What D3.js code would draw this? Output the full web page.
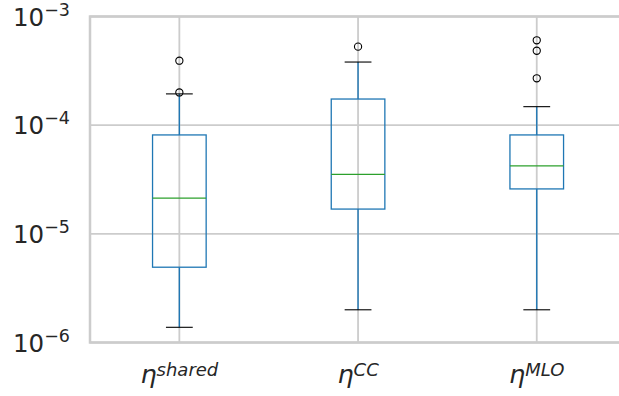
<!DOCTYPE html>
<html>
<head>
<meta charset="utf-8">
<script src="https://cdn.jsdelivr.net/npm/d3@7"></script>
<style>
  html, body { margin: 0; padding: 0; background: #fff; }
  svg { display: block; font-family: "DejaVu Sans", sans-serif; }
</style>
</head>
<body>
<svg id="chart" width="619" height="396"></svg>
<script>
// ---- data ----
const categories = ["shared", "CC", "MLO"];
const q1 = [4.93e-6, 1.69e-5, 2.59e-5];
const medians = [2.13e-5, 3.53e-5, 4.22e-5];
const q3 = [8.13e-5, 1.74e-4, 8.13e-5];
const whiskerLow = [1.38e-6, 2.0e-6, 2.0e-6];
const whiskerHigh = [1.94e-4, 3.81e-4, 1.48e-4];
const outliers = [[2.0e-4, 3.92e-4], [5.28e-4], [2.70e-4, 4.84e-4, 6.04e-4]];
const yTickExponents = [-6, -5, -4, -3];

// ---- layout ----
const svg = d3.select("#chart");
const plotLeft = 90, plotTop = 16.5, plotBottom = 342.5;
const step = 178.7;
const x = d3.scaleLinear().domain([0.5, 3.5]).range([plotLeft, plotLeft + 3 * step]);
const y = d3.scaleLog().domain([1e-6, 1e-3]).range([plotBottom, plotTop]);
const grid = "#cccccc";

const g = svg.append("g");

// gridlines
g.selectAll(".hgrid").data(yTickExponents).enter().append("line")
  .attr("x1", x(0.5)).attr("x2", x(3.5))
  .attr("y1", d => y(Math.pow(10, d))).attr("y2", d => y(Math.pow(10, d)))
  .attr("stroke", grid).attr("stroke-width", 1.8);
g.selectAll(".vgrid").data(categories).enter().append("line")
  .attr("x1", (d, i) => x(i + 1)).attr("x2", (d, i) => x(i + 1))
  .attr("y1", plotTop).attr("y2", plotBottom)
  .attr("stroke", grid).attr("stroke-width", 1.8);

// spines
g.append("rect")
  .attr("x", x(0.5)).attr("y", plotTop)
  .attr("width", x(3.5) - x(0.5)).attr("height", plotBottom - plotTop)
  .attr("fill", "none").attr("stroke", grid).attr("stroke-width", 2.5);

// boxes
const blue = "#1f77b4", green = "#2ca02c";
const boxW = 0.3, capW = 0.15;
categories.forEach((c, i) => {
  const p = i + 1;
  const bg = g.append("g");
  // whiskers
  bg.append("line").attr("x1", x(p)).attr("x2", x(p))
    .attr("y1", y(q3[i])).attr("y2", y(whiskerHigh[i]))
    .attr("stroke", blue).attr("stroke-width", 1.4);
  bg.append("line").attr("x1", x(p)).attr("x2", x(p))
    .attr("y1", y(q1[i])).attr("y2", y(whiskerLow[i]))
    .attr("stroke", blue).attr("stroke-width", 1.4);
  // caps
  [whiskerHigh[i], whiskerLow[i]].forEach(v => {
    bg.append("line").attr("x1", x(p - capW / 2)).attr("x2", x(p + capW / 2))
      .attr("y1", y(v)).attr("y2", y(v))
      .attr("stroke", "#000").attr("stroke-width", 1.1);
  });
  // box
  bg.append("rect")
    .attr("x", x(p - boxW / 2)).attr("width", x(p + boxW / 2) - x(p - boxW / 2))
    .attr("y", y(q3[i])).attr("height", y(q1[i]) - y(q3[i]))
    .attr("fill", "none").attr("stroke", blue).attr("stroke-width", 1.3);
  // median
  bg.append("line").attr("x1", x(p - boxW / 2)).attr("x2", x(p + boxW / 2))
    .attr("y1", y(medians[i])).attr("y2", y(medians[i]))
    .attr("stroke", green).attr("stroke-width", 1.3);
  // outliers
  bg.selectAll("circle").data(outliers[i]).enter().append("circle")
    .attr("cx", x(p)).attr("cy", d => y(d)).attr("r", 3.6)
    .attr("fill", "none").attr("stroke", "#000").attr("stroke-width", 1.1);
});

// y tick labels
const txt = "#262626";
yTickExponents.forEach(e => {
  const t = svg.append("text")
    .attr("x", 70).attr("y", y(Math.pow(10, e)) + 9)
    .attr("text-anchor", "end").attr("fill", txt)
    .attr("font-size", 24.5);
  t.append("tspan").text("10");
  t.append("tspan").attr("dy", -10).attr("font-size", 17.5).text("\u2212" + Math.abs(e));
});

// x tick labels
categories.forEach((c, i) => {
  const t = svg.append("text")
    .attr("x", x(i + 1)).attr("y", 383)
    .attr("text-anchor", "middle").attr("fill", txt)
    .attr("font-size", 25.5).attr("font-style", "italic");
  t.append("tspan").text("\u03b7");
  t.append("tspan").attr("dy", -7.5).attr("font-size", 18).text(c);
});
</script>
</body>
</html>
